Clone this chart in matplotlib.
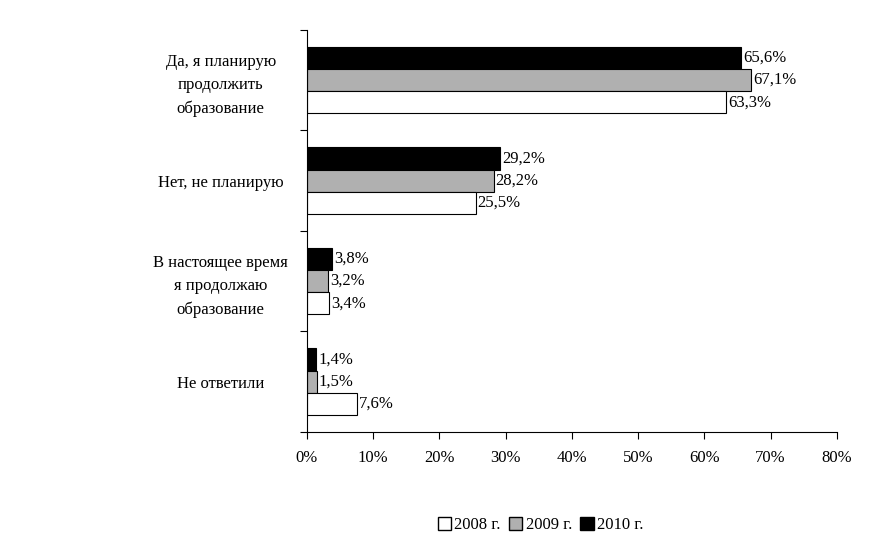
import matplotlib
matplotlib.use("Agg")
import matplotlib.pyplot as plt
import numpy as np
from matplotlib.patches import Patch

plt.rcParams["font.family"] = "Liberation Serif"

categories = ["Да, я планирую\nпродолжить\nобразование", "Нет, не планирую",
              "В настоящее время\nя продолжаю\nобразование", "Не ответили"]
years = ["2008 г.", "2009 г.", "2010 г."]
v2008 = [63.3, 25.5, 3.4, 7.6]
v2009 = [67.1, 28.2, 3.2, 1.5]
v2010 = [65.6, 29.2, 3.8, 1.4]
xticks = [0, 10, 20, 30, 40, 50, 60, 70, 80]

fig = plt.figure(figsize=(8.79, 5.53), dpi=100)
ax = fig.add_axes([0.349, 0.219, 0.603, 0.727])

n = len(categories)
centers = np.arange(n)[::-1] + 0.5
h = 0.22
series = [(v2010, "black", h), (v2009, "#b0b0b0", 0), (v2008, "white", -h)]
for vals, col, off in series:
    bars = ax.barh(centers + off, vals, height=h, color=col, edgecolor="black", linewidth=0.8)
    for b, v in zip(bars, vals):
        ax.text(v + 0.3, b.get_y() + h / 2, f"{v:.1f}%".replace(".", ","),
                va="center", ha="left", fontsize=12)

ax.set_xlim(0, 80)
ax.set_ylim(0, n)
ax.set_xticks(xticks)
ax.set_xticklabels([f"{t}%" for t in xticks], fontsize=12)
ax.set_yticks(range(n + 1))
ax.set_yticklabels([])
ax.set_yticks(centers, minor=True)
ax.set_yticklabels(categories, minor=True, fontsize=12, ha="center", linespacing=1.6)
ax.tick_params(axis="y", which="minor", length=0, pad=62)
ax.tick_params(axis="y", which="major", length=5, direction="out")
ax.tick_params(axis="x", length=5, direction="out", pad=8)
for s in ["top", "right"]:
    ax.spines[s].set_visible(False)

handles = [Patch(facecolor=c, edgecolor="black", label=y)
           for y, c in zip(years, ["white", "#b0b0b0", "black"])]
fig.legend(handles=handles, loc="center", bbox_to_anchor=(0.615, 0.05), ncol=3,
           frameon=False, fontsize=12, handlelength=0.8, handleheight=0.8,
           handletextpad=0.2, columnspacing=0.5)

fig.savefig("out.png", dpi=100)
